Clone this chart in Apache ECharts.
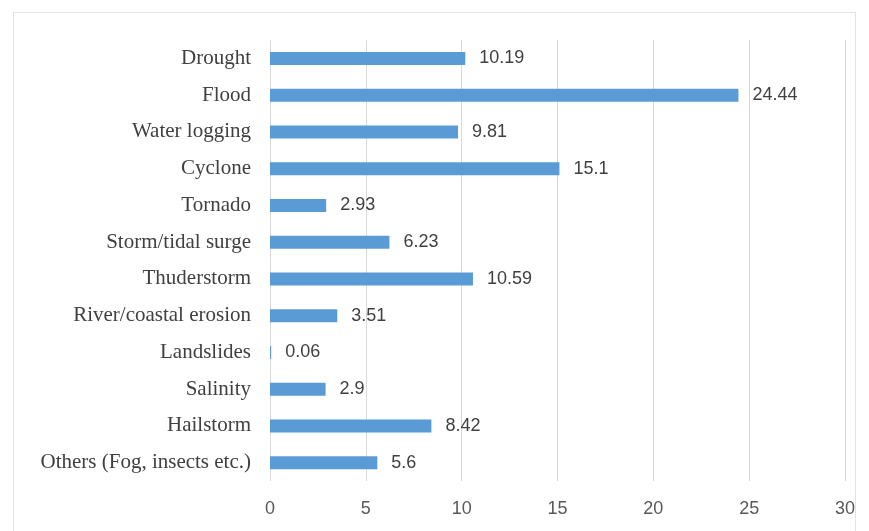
<!DOCTYPE html>
<html>
<head>
<meta charset="utf-8">
<style>
  html, body { margin: 0; padding: 0; background: #ffffff; }
  #frame { position: absolute; left: 13px; top: 12px; width: 843px; height: 530px;
           border: 1px solid #e3e3e3; box-sizing: border-box; }
  #chart { position: absolute; left: 0; top: 0; width: 869px; height: 531px; }
</style>
<script src="https://cdn.jsdelivr.net/npm/echarts@6/dist/echarts.min.js"></script>
</head>
<body>
<div id="frame"></div>
<div id="chart"></div>
<script>
// Disaster categories, listed top to bottom
const categories = [
  'Drought', 'Flood', 'Water logging', 'Cyclone', 'Tornado',
  'Storm/tidal surge', 'Thuderstorm', 'River/coastal erosion',
  'Landslides', 'Salinity', 'Hailstorm', 'Others (Fog, insects etc.)'
];
// Percentage share per category
const values = [10.19, 24.44, 9.81, 15.1, 2.93, 6.23, 10.59, 3.51, 0.06, 2.9, 8.42, 5.6];
// Value axis range and step
const axisMin = 0;
const axisMax = 30;
const axisStep = 5;

const chart = echarts.init(document.getElementById('chart'), null, { renderer: 'canvas' });

chart.setOption({
  animation: false,
  grid: { left: 270, right: 24, top: 40, bottom: 50, containLabel: false },
  xAxis: {
    type: 'value',
    min: axisMin,
    max: axisMax,
    interval: axisStep,
    axisLine: { show: false },
    axisTick: { show: false },
    splitLine: { show: true, lineStyle: { color: '#d9d9d9', width: 1 } },
    axisLabel: {
      color: '#595959',
      fontFamily: 'Liberation Sans, Arial, sans-serif',
      fontSize: 18,
      margin: 19
    }
  },
  yAxis: {
    type: 'category',
    data: categories,
    inverse: true,
    axisLine: { show: false },
    axisTick: { show: false },
    splitLine: { show: false },
    axisLabel: {
      color: '#404040',
      fontFamily: 'Liberation Serif, Times New Roman, serif',
      fontSize: 21,
      margin: 19
    }
  },
  series: [{
    type: 'bar',
    data: values,
    barWidth: 13,
    itemStyle: { color: '#5b9bd5' },
    label: {
      show: true,
      position: 'right',
      distance: 14,
      color: '#404040',
      fontFamily: 'Liberation Sans, Arial, sans-serif',
      fontSize: 18
    }
  }]
});
</script>
</body>
</html>
